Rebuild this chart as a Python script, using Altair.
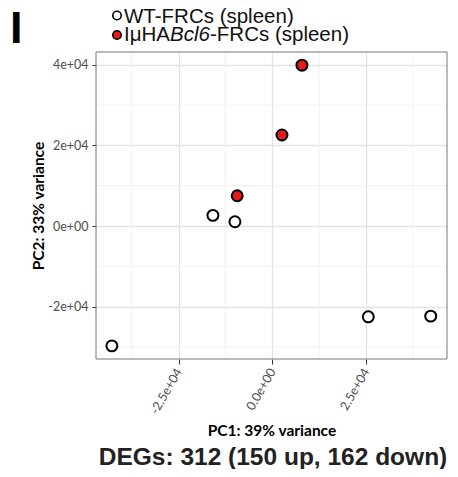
import altair as alt
import pandas as pd

# ---- data ----
pc1 = [-15820, -9950, 25610, 42260, -42770, -9340, 2590, 7920]
pc2 = [2650, 1070, -22530, -22360, -29740, 7530, 22600, 39930]
group = ["WT", "WT", "WT", "WT", "WT", "Bcl6", "Bcl6", "Bcl6"]

x_ticks = [-25000, 0, 25000]
x_tick_labels = ["-2.5e+04", "0.0e+00", "2.5e+04"]
y_ticks = [-20000, 0, 20000, 40000]
y_tick_labels = ["-2e+04", "0e+00", "2e+04", "4e+04"]
x_minor = [-37500, -12500, 12500, 37500]
y_minor = [-30000, -10000, 10000, 30000]

legend_row1 = ["WT-FRCs (spleen)"]
legend_row2 = ["IμHA", "Bcl6", "-FRCs (spleen)"]
panel_label = ["I"]
caption = ["DEGs: 312 (150 up, 162 down)"]

RED = "#E41A1C"
FONT_AX = "Lato"
FONT_TXT = "Liberation Sans"
W, H = 351, 307

df = pd.DataFrame({"PC1": pc1, "PC2": pc2, "group": group})

def label_expr(vals, labs):
    expr = "''"
    for v, l in zip(vals, labs):
        expr = f"datum.value == {v} ? '{l}' : ({expr})"
    return expr

xscale = alt.Scale(domain=[-47000, 46600], nice=False, zero=False)
yscale = alt.Scale(domain=[-33000, 43200], nice=False, zero=False)

xaxis = alt.Axis(
    values=x_ticks, labelExpr=label_expr(x_ticks, x_tick_labels),
    title="PC1: 39% variance", labelAngle=-60, labelAlign="right", labelBaseline="middle",
    labelFont=FONT_AX, labelFontSize=12.5, labelColor="#4d4d4d", labelPadding=5,
    tickSize=5, tickColor="#333333", tickWidth=1, domain=False,
    grid=True, gridColor="#e3e3e3", gridWidth=1.3,
    titleFont=FONT_AX, titleFontSize=15.5, titleFontWeight="bold", titleColor="#000000",
    titleY=71, titleBaseline="middle",
)
yaxis = alt.Axis(
    values=y_ticks, labelExpr=label_expr(y_ticks, y_tick_labels),
    title="PC2: 33% variance",
    labelFont=FONT_AX, labelFontSize=12.5, labelColor="#4d4d4d", labelPadding=4,
    tickSize=4, tickColor="#333333", tickWidth=1, domain=False,
    grid=True, gridColor="#e3e3e3", gridWidth=1.3,
    titleFont=FONT_AX, titleFontSize=15.5, titleFontWeight="bold", titleColor="#000000",
    titleX=-58, titleBaseline="middle",
)

points = alt.Chart(df).mark_point(
    filled=True, size=120, stroke="black", strokeWidth=2, opacity=1, shape="circle"
).encode(
    x=alt.X("PC1:Q", scale=xscale, axis=xaxis),
    y=alt.Y("PC2:Q", scale=yscale, axis=yaxis),
    fill=alt.Fill("group:N", scale=alt.Scale(domain=["WT", "Bcl6"], range=["white", RED]), legend=None),
)

minor_x = alt.Chart(pd.DataFrame({"v": x_minor})).mark_rule(
    color="#eeeeee", strokeWidth=0.8
).encode(x=alt.X("v:Q", scale=xscale))
minor_y = alt.Chart(pd.DataFrame({"v": y_minor})).mark_rule(
    color="#eeeeee", strokeWidth=0.8
).encode(y=alt.Y("v:Q", scale=yscale))

border = alt.Chart(pd.DataFrame({"a": [0]})).mark_rect(
    fillOpacity=0, stroke="#777777", strokeWidth=1
).encode(x=alt.value(0), x2=alt.value(W), y=alt.value(0), y2=alt.value(H))

# manual legend (positions in pixels relative to plot origin)
leg_pts = alt.Chart(pd.DataFrame({"g": ["WT", "Bcl6"], "yy": [-36.5, -17]})).mark_point(
    filled=True, size=72, stroke="black", strokeWidth=1.6, opacity=1, shape="circle"
).encode(
    x=alt.value(21),
    y=alt.Y("yy:Q", scale=None),
    fill=alt.Fill("g:N", scale=alt.Scale(domain=["WT", "Bcl6"], range=["white", RED]), legend=None),
)

def txt(text, x, y, size, weight="normal", style="normal", align="left", baseline="alphabetic", color="#111111", font=FONT_TXT):
    return alt.Chart(pd.DataFrame({"t": text})).mark_text(
        font=font, fontSize=size, fontWeight=weight, fontStyle=style,
        align=align, baseline=baseline, color=color,
    ).encode(text="t:N", x=alt.value(x), y=alt.value(y))

leg1 = txt(legend_row1, 28, -29.5, 20.5)
leg2a = txt([legend_row2[0]], 28, -11, 20.5)
leg2b = txt([legend_row2[1]], 74, -11, 20.5, style="italic")
leg2c = txt([legend_row2[2]], 114, -11, 20.5)
lab = txt(panel_label, -86, -9, 45, weight="bold", color="#000000")
cap = txt(caption, 177, 413, 24.5, weight="bold", align="center", color="#222222")

chart = alt.layer(
    minor_x, minor_y, points, border, leg_pts, leg1, leg2a, leg2b, leg2c, lab, cap
).properties(
    width=W, height=H,
    autosize=alt.AutoSizeParams(type="none"),
    padding={"left": 88, "top": 44, "right": 3, "bottom": 110},
).configure_view(
    stroke=None
)

chart.save("out.html", embed_options={"renderer": "svg", "actions": False})
